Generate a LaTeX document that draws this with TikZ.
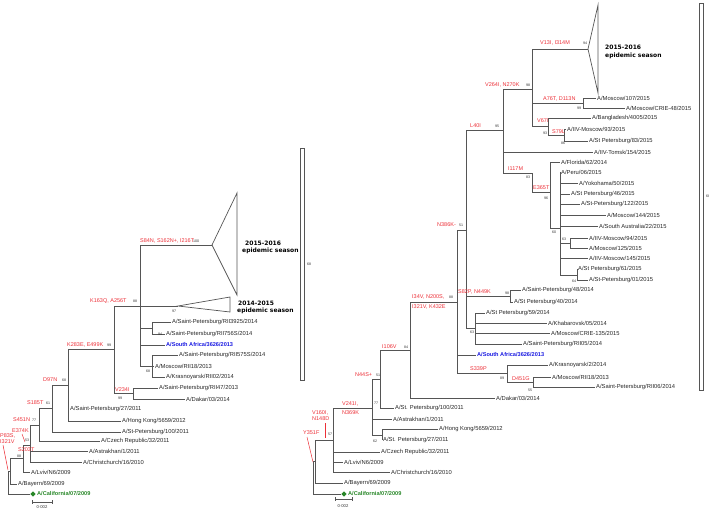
\documentclass[tikz,border=0pt]{standalone}
\usepackage{fontspec}
\setmainfont{Liberation Sans}
\newfontfamily\seasonfont{DejaVu Sans}
\usetikzlibrary{shapes.geometric}
\definecolor{mutred}{RGB}{236,48,56}
\definecolor{safblue}{RGB}{25,25,225}
\definecolor{calgreen}{RGB}{40,135,40}
\definecolor{branchgray}{RGB}{85,85,85}
\newcommand{\leaf}[3]{\coordinate (#1) at (#2); \node[leaf] (#1t) at (#1) {#3};}

\tikzset{
  br/.style={draw=branchgray, line width=0.7pt},
  leaf/.style={anchor=west, inner sep=1pt, font=\fontsize{5.8}{6}\selectfont, text=black!85},
  mut/.style={anchor=west, inner sep=0pt, font=\fontsize{5.5}{6}\selectfont, text=mutred, align=left},
  supp/.style={anchor=west, inner sep=0pt, font=\fontsize{3.6}{4}\selectfont, text=black!80},
  season/.style={anchor=west, inner sep=0pt, font=\seasonfont\bfseries\fontsize{6}{7}\selectfont},
  pointer/.style={draw=mutred, line width=0.5pt},
  cladebar/.style={draw=branchgray, line width=0.6pt, fill=white},
  refstrain/.style={diamond, fill=calgreen, inner sep=0pt, minimum size=5.5pt},
}

\begin{document}
\begin{tikzpicture}[x=1pt,y=-1pt]
  \useasboundingbox (0,0) rectangle (709,509);

  %%%%% LEFT TREE %%%%%
  \coordinate (lroot) at (8,482);
  \coordinate (ln1) at (10,471);
  \coordinate (ln2) at (23,458);
  \coordinate (ln3) at (30,445);
  \coordinate (ln4) at (39,425);
  \coordinate (ln5) at (52,408);
  \coordinate (ln6) at (68,385);
  \coordinate (ln7) at (114,349);
  \coordinate (ln8) at (140,306);
  \coordinate (ln9) at (133,393);
  \coordinate (ln10) at (152,328);
  \coordinate (ln11) at (152,366);
  \coordinate (lt15) at (212,245);
  \coordinate (lt14) at (178,306);

  \coordinate (lcal) at (30,494);
  \node[refstrain] (lcald) at (33,494) {};
  \node[leaf, text=calgreen, font=\fontsize{5.6}{6}\selectfont\bfseries] (lcalt) at (36,494) {A/California/07/2009};
  \leaf{lbay}{17,484}{A/Bayern/69/2009}
  \leaf{llviv}{30,472}{A/Lviv/N6/2009}
  \leaf{lchr}{82,462}{A/Christchurch/16/2010}
  \leaf{last}{88,451}{A/Astrakhan/1/2011}
  \leaf{lcze}{100,441}{A/Czech Republic/32/2011}
  \leaf{lsp100}{121,432}{A/St-Petersburg/100/2011}
  \leaf{lhk}{121,421}{A/Hong Kong/5659/2012}
  \leaf{lsp27}{69,409}{A/Saint-Petersburg/27/2011}
  \leaf{lrii47}{158,388}{A/Saint-Petersburg/RII47/2013}
  \leaf{ldak}{185,399}{A/Dakar/03/2014}
  \leaf{lkra}{165,377}{A/Krasnoyarsk/RII02/2014}
  \leaf{lmos}{154,366}{A/Moscow/RII18/2013}
  \leaf{lrii575}{178,355}{A/Saint-Petersburg/RII575S/2014}
  \coordinate (lsaf) at (165,345);
  \node[leaf, text=safblue, font=\fontsize{5.6}{6}\selectfont\bfseries] (lsaft) at (lsaf) {A/South Africa/3626/2013};
  \leaf{lrii756}{165,334}{A/Saint-Petersburg/RII756S/2014}
  \leaf{lrii3925}{171,322}{A/Saint-Petersburg/RII3925/2014}

  \foreach \p/\c in {lroot/ln1, lroot/lcal, ln1/lbay, ln1/ln2, ln2/ln3, ln2/llviv,
      ln3/ln4, ln3/last, ln3/lchr, ln4/ln5, ln4/lcze, ln5/ln6, ln5/lsp100,
      ln6/ln7, ln6/lsp27, ln6/lhk, ln7/ln8, ln7/ln9, ln8/lt15, ln8/lt14,
      ln8/ln10, ln8/lsaf, ln8/ln11, ln9/lrii47, ln9/ldak, ln10/lrii3925,
      ln10/lrii756, ln11/lrii575, ln11/lmos, ln11/lkra}
    \draw[br] (\p) |- (\c);

  \draw[br] (lt15) -- (237,193) -- (237,295) -- cycle;
  \draw[br] (lt14) -- (230,297) -- (230,312) -- cycle;
  \node[season] (ls15a) at (245,243) {2015-2016};
  \node[season] (ls15b) at (242,251) {epidemic season};
  \node[season] (ls14a) at (238,303) {2014-2015};
  \node[season] (ls14b) at (237,311) {epidemic season};

  \node[mut] (ms84) at (140,241) {S84N, S162N+, I216T};
  \node[supp] at (193,241) {100};
  \node[mut] (mk163) at (90,301) {K163Q, A256T};
  \node[supp] at (133,301) {88};
  \node[supp] at (172,311) {97};
  \node[supp] at (158,334) {94};
  \node[supp] at (146,371) {68};
  \node[mut] (mk283) at (67,345) {K283E, E499K};
  \node[supp] at (107,345) {99};
  \node[mut] (mv234) at (115,390) {V234I};
  \node[supp] at (118,398) {99};
  \node[mut] (md97) at (43,380) {D97N};
  \node[supp] at (62,380) {68};
  \node[mut] (ms185) at (27,403) {S185T};
  \node[supp] at (46,403) {61};
  \node[mut] (ms451) at (13,420) {S451N};
  \node[supp] at (32,420) {77};
  \node[mut] (me374) at (12,431) {E374K};
  \draw[pointer] (22,434) -- (25,442);
  \node[supp] at (25,440) {53};
  \node[mut] (mp83) at (0,439) {P83S,\\I321V};
  \draw[pointer] (3,445) -- (8,470);
  \node[mut] (ms203) at (18,450) {S203T};
  \node[supp] at (17,456) {88};

  \draw[cladebar] (300,148) rectangle (304,380);
  \node[supp] at (307,264) {68};

  \draw[br] (32,502) -- (52,502);
  \draw[br] (32,500) -- (32,504);
  \draw[br] (52,500) -- (52,504);
  \node[supp, anchor=center, font=\fontsize{4.2}{5}\selectfont] at (42,507) {0·002};

  %%%%% RIGHT TREE %%%%%
  \coordinate (rroot) at (313,478);
  \coordinate (rn1) at (315,461);
  \coordinate (rn2) at (333,440);
  \coordinate (rn3) at (372,408);
  \coordinate (rn4) at (380,379);
  \coordinate (rn5) at (382,435);
  \coordinate (rn6) at (410,350);
  \coordinate (rn7) at (457,302);
  \coordinate (rn8) at (466,230);
  \coordinate (rn9) at (507,373);
  \coordinate (rn10) at (533,382);
  \coordinate (rn11) at (503,130);
  \coordinate (rn12) at (510,296);
  \coordinate (rn13) at (475,328);
  \coordinate (rn14) at (532,89);
  \coordinate (rn15) at (532,173);
  \coordinate (rn16) at (583,103);
  \coordinate (rn17) at (548,126);
  \coordinate (rn18) at (564,135);
  \coordinate (rn19) at (550,192);
  \coordinate (rn20) at (560,228);
  \coordinate (rn21) at (570,243);
  \coordinate (rn22) at (577,275);
  \coordinate (rt15) at (588,49);

  \coordinate (rcal) at (341,494);
  \node[refstrain] (rcald) at (344,494) {};
  \node[leaf, text=calgreen, font=\fontsize{5.6}{6}\selectfont\bfseries] (rcalt) at (347,494) {A/California/07/2009};
  \leaf{rbay}{343,483}{A/Bayern/69/2009}
  \leaf{rlviv}{343,462}{A/Lviv/N6/2009}
  \leaf{rchr}{390,472}{A/Christchurch/16/2010}
  \leaf{rcze}{380,452}{A/Czech Republic/32/2011}
  \leaf{rast}{392,419}{A/Astrakhan/1/2011}
  \leaf{rhk}{438,429}{A/Hong Kong/5659/2012}
  \leaf{rsp27}{382,440}{A/St. Petersburg/27/2011}
  \leaf{rsp100}{394,408}{A/St. Petersburg/100/2011}
  \leaf{rdak}{495,398}{A/Dakar/03/2014}
  \coordinate (rsaf) at (476,355);
  \node[leaf, text=safblue, font=\fontsize{5.6}{6}\selectfont\bfseries] (rsaft) at (rsaf) {A/South Africa/3626/2013};
  \leaf{rkra}{548,365}{A/Krasnoyarsk/2/2014}
  \leaf{rmos}{551,377}{A/Moscow/RII18/2013}
  \leaf{rrii06}{595,387}{A/Saint-Petersburg/RII06/2014}
  \leaf{rsp48}{521,290}{A/Saint-Petersburg/48/2014}
  \leaf{rsp40}{513,302}{A/St Petersburg/40/2014}
  \leaf{rsp59}{485,313}{A/St Petersburg/59/2014}
  \leaf{rkha}{547,323}{A/Khabarovsk/05/2014}
  \leaf{rcrie135}{550,333}{A/Moscow/CRIE-135/2015}
  \leaf{rrii05}{522,344}{A/Saint-Petersburg/RII05/2014}
  \leaf{rtomsk}{593,152}{A/IIV-Tomsk/154/2015}
  \leaf{rmos107}{596,98}{A/Moscow/107/2015}
  \leaf{rcrie48}{625,108}{A/Moscow/CRIE-48/2015}
  \leaf{rbang}{591,118}{A/Bangladesh/4005/2015}
  \leaf{riiv93}{566,129}{A/IIV-Moscow/93/2015}
  \leaf{rsp83}{588,141}{A/St Petersburg/83/2015}
  \leaf{rflo}{560,162}{A/Florida/62/2014}
  \leaf{rperu}{560,172}{A/Peru/06/2015}
  \leaf{ryok}{578,183}{A/Yokohama/50/2015}
  \leaf{rsp46}{570,194}{A/St Petersburg/46/2015}
  \leaf{rsp122}{580,204}{A/St-Petersburg/122/2015}
  \leaf{rmos144}{606,215}{A/Moscow/144/2015}
  \leaf{rsaus}{598,226}{A/South Australia/22/2015}
  \leaf{riiv94}{588,238}{A/IIV-Moscow/94/2015}
  \leaf{rmos125}{588,248}{A/Moscow/125/2015}
  \leaf{riiv145}{588,258}{A/IIV-Moscow/145/2015}
  \leaf{rsp61}{577,269}{A/St Petersburg/61/2015}
  \leaf{rsp01}{588,280}{A/St-Petersburg/01/2015}

  \foreach \p/\c in {rroot/rn1, rroot/rcal, rn1/rn2, rn1/rbay, rn2/rn3, rn2/rcze,
      rn2/rlviv, rn2/rchr, rn3/rn4, rn3/rast, rn3/rn5, rn5/rhk, rn5/rsp27,
      rn4/rn6, rn4/rsp100, rn6/rn7, rn6/rdak, rn7/rn8, rn7/rsaf, rn7/rn9,
      rn9/rkra, rn9/rn10, rn10/rmos, rn10/rrii06, rn8/rn11, rn8/rn12, rn8/rn13,
      rn12/rsp48, rn12/rsp40, rn13/rsp59, rn13/rkha, rn13/rcrie135, rn13/rrii05,
      rn11/rn14, rn11/rtomsk, rn11/rn15, rn14/rt15, rn14/rn16, rn14/rn17,
      rn16/rmos107, rn16/rcrie48, rn17/rbang, rn17/rn18, rn18/riiv93, rn18/rsp83,
      rn15/rn19, rn19/rflo, rn19/rn20, rn20/rperu, rn20/ryok, rn20/rsp46,
      rn20/rsp122, rn20/rmos144, rn20/rsaus, rn20/rn21, rn20/riiv145, rn20/rn22,
      rn21/riiv94, rn21/rmos125, rn22/rsp61, rn22/rsp01}
    \draw[br] (\p) |- (\c);

  \draw[br] (rt15) -- (598,5) -- (598,93) -- cycle;
  \node[season] (rs15a) at (605,47) {2015-2016};
  \node[season] (rs15b) at (605,56) {epidemic season};

  \node[mut] (mv13) at (540,43) {V13I, I314M};
  \node[supp] at (583,43) {94};
  \node[mut] (mv264) at (485,85) {V264I, N270K};
  \node[supp] at (526,85) {98};
  \node[mut] (ma76) at (543,99) {A76T, D113N};
  \node[supp] at (577,108) {99};
  \node[mut] (mv67) at (537,121) {V67I};
  \node[supp] at (543,133) {93};
  \node[mut] (ms79) at (552,132) {S79L};
  \node[supp] at (561,143) {86};
  \node[mut] (ml40) at (470,126) {L40I};
  \node[supp] at (495,126) {95};
  \node[mut] (mi117) at (508,169) {I117M};
  \node[supp] at (526,177) {83};
  \node[mut] (me365) at (533,188) {E365T};
  \node[supp] at (544,198) {96};
  \node[supp] at (552,232) {60};
  \node[supp] at (562,239) {63};
  \node[supp] at (572,281) {64};
  \node[mut] (mn386) at (437,225) {N386K-};
  \node[supp] at (459,225) {51};
  \node[mut] (ms82) at (458,292) {S82P, N449K};
  \node[supp] at (505,293) {98};
  \node[supp] at (470,332) {63};
  \node[mut] (mi34a) at (412,297) {I34V, N200S,};
  \node[mut] (mi34b) at (412,306.5) {I321V, K432E};
  \node[supp] at (449,297) {88};
  \node[mut] (mi106) at (382,347) {I106V};
  \node[supp] at (404,347) {84};
  \node[mut] (ms339) at (470,369) {S339P};
  \node[supp] at (500,378) {89};
  \node[mut] (md451) at (512,379) {D451G};
  \node[supp] at (528,390) {55};
  \node[mut] (mn44) at (355,375) {N44S+};
  \node[supp] at (376,375) {51};
  \node[mut] (mv241a) at (342,403.5) {V241I,};
  \node[mut] (mv241b) at (342,412.5) {N369K};
  \node[supp] at (374,403) {77};
  \node[supp] at (373,441) {62};
  \node[mut] (mv160) at (312,416) {V160I,\\N148D};
  \draw[pointer] (325,423) -- (325,438);
  \node[supp] at (328,434) {57};
  \node[mut] (my351) at (303,433) {Y351F};
  \draw[pointer] (307,437) -- (313,462);

  \draw[cladebar] (699,3) rectangle (703,390);
  \node[supp] at (706,196) {68};

  \draw[br] (335,499) -- (352,499);
  \draw[br] (335,497) -- (335,501);
  \draw[br] (352,497) -- (352,501);
  \node[supp, anchor=center, font=\fontsize{4.2}{5}\selectfont] at (343,506) {0·002};
\end{tikzpicture}
\end{document}
